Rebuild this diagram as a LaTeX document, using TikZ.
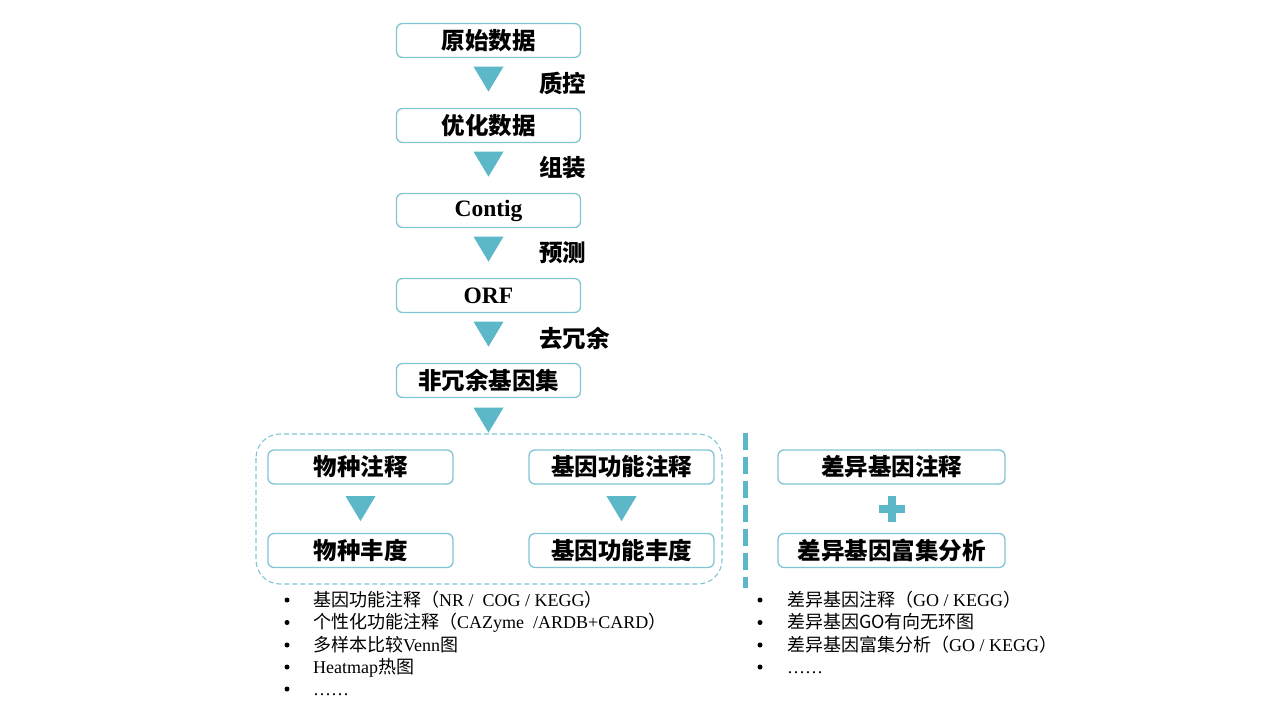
\documentclass[tikz,border=0pt]{standalone}
\usepackage{fontspec}
\setmainfont{Liberation Serif}
\newfontfamily\cjk{Noto Sans CJK SC}
\usetikzlibrary{calc}
\definecolor{tealA}{RGB}{92,183,200}
\definecolor{tealB}{RGB}{128,197,212}
\tikzset{
  box/.style={draw=tealB, line width=1.3pt, rounded corners=6pt, fill=white,
    minimum height=34pt, inner sep=0pt, font=\cjk\bfseries\fontsize{23.5}{23.5}\selectfont},
  lbl/.style={anchor=west, inner sep=0pt, font=\cjk\bfseries\fontsize{23.5}{23.5}\selectfont},
  bul/.style={anchor=base west, inner sep=0pt, font=\fontsize{18}{20}\selectfont},
  dot/.style={circle, fill=black, inner sep=0pt, minimum size=5pt},
  trifill/.style={fill=tealA}
}
\newcommand\downtri[1]{\fill[trifill] ($(#1)+(-15,-12.5)$) -- ($(#1)+(15,-12.5)$) -- ($(#1)+(0,12.5)$) -- cycle;}
\begin{document}
\begin{tikzpicture}[x=1pt,y=-1pt]
\useasboundingbox (0,0) rectangle (1278,716);
% main column
\node[box, minimum width=184pt] (n1) at (488.5,40.5) {原始数据};
\node[box, minimum width=184pt] (n2) at (488.5,125.5) {优化数据};
\node[box, minimum width=184pt, font=\bfseries\fontsize{23.5}{23.5}\selectfont] (n3) at (488.5,210.5) {Contig};
\node[box, minimum width=184pt, font=\bfseries\fontsize{23.5}{23.5}\selectfont] (n4) at (488.5,295.5) {ORF};
\node[box, minimum width=184pt] (n5) at (488.5,380.5) {非冗余基因集};
\coordinate (t1) at ($(n1.south)+(0,21)$);
\coordinate (t2) at ($(n2.south)+(0,21)$);
\coordinate (t3) at ($(n3.south)+(0,21)$);
\coordinate (t4) at ($(n4.south)+(0,21)$);
\coordinate (t5) at ($(n5.south)+(0,22)$);
\downtri{t1}\downtri{t2}\downtri{t3}\downtri{t4}\downtri{t5}
\node[lbl] (l1) at (539,83) {质控};
\node[lbl] (l2) at (539,168) {组装};
\node[lbl] (l3) at (539,253) {预测};
\node[lbl] (l4) at (539,338) {去冗余};
% dashed group
\draw[tealB, line width=1.1pt, dash pattern=on 5pt off 3pt, rounded corners=24pt] (256,434) rectangle (722,584);
\node[box, minimum width=185pt] (a1) at (360.5,467) {物种注释};
\node[box, minimum width=185pt] (a2) at (360.5,550.5) {物种丰度};
\node[box, minimum width=185pt] (b1) at (621.5,467) {基因功能注释};
\node[box, minimum width=185pt] (b2) at (621.5,550.5) {基因功能丰度};
\coordinate (ta) at ($(a1.south)+(0,24)$);
\coordinate (tb) at ($(b1.south)+(0,24)$);
\downtri{ta}\downtri{tb}
% separator
\coordinate (s1) at (745,433);
\coordinate (s2) at (745,588);
\draw[tealA, line width=5pt, dash pattern=on 17pt off 7pt] (s1) -- (s2);
% right boxes
\node[box, minimum width=227pt] (c1) at (891.5,467) {差异基因注释};
\node[box, minimum width=227pt] (c2) at (891.5,550.5) {差异基因富集分析};
\coordinate (pc) at ($(c1.south)!0.5!(c2.north)$);
\fill[tealA] ($(pc)+(-4,-13)$) rectangle ($(pc)+(4,13)$);
\fill[tealA] ($(pc)+(-13,-4)$) rectangle ($(pc)+(13,4)$);
% left list
\foreach \y/\nm in {600/d1,622.5/d2,645/d3,667/d4,689/d5}{\node[dot] (\nm) at (287,\y) {};}
\node[bul] (e1) at (313,606) {{\cjk 基因功能注释（}NR /\ \ COG / KEGG{\cjk ）}};
\node[bul] (e2) at (313,628.5) {{\cjk 个性化功能注释（}CAZyme\ \ /ARDB+CARD{\cjk ）}};
\node[bul] (e3) at (313,651) {{\cjk 多样本比较}Venn{\cjk 图}};
\node[bul] (e4) at (313,673) {Heatmap{\cjk 热图}};
\node[bul] (e5) at (313,695) {……};
% right list
\foreach \y/\nm in {600/f1,622.5/f2,645/f3,667/f4}{\node[dot] (\nm) at (760,\y) {};}
\node[bul] (g1) at (787,606) {{\cjk 差异基因注释（}GO / KEGG{\cjk ）}};
\node[bul] (g2) at (787,628.5) {{\cjk 差异基因GO有向无环图}};
\node[bul] (g3) at (787,651) {{\cjk 差异基因富集分析（}GO / KEGG{\cjk ）}};
\node[bul] (g4) at (787,673) {……};
\end{tikzpicture}
\end{document}
